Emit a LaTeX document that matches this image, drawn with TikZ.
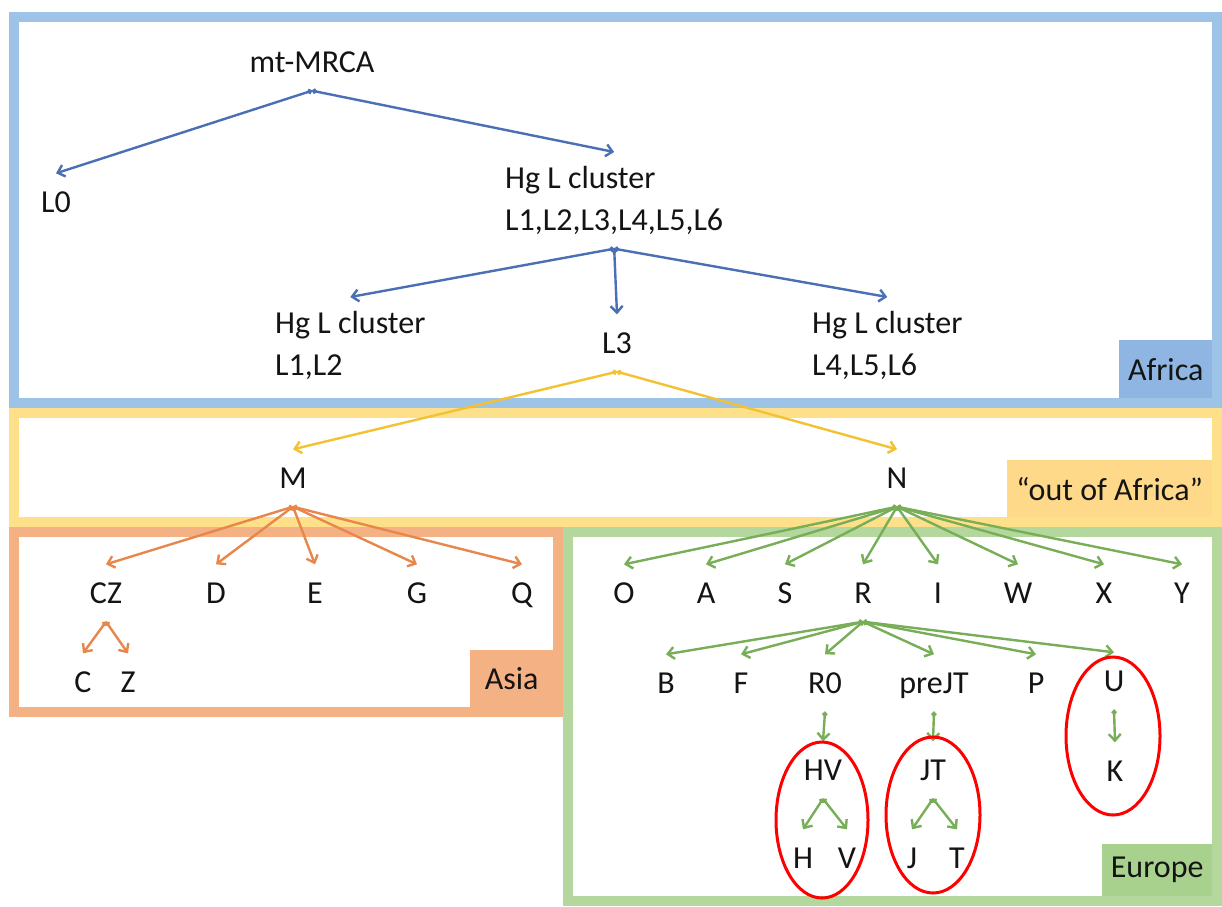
\documentclass[tikz,border=0pt]{standalone}
\usepackage{fontspec}
\setmainfont{Carlito}
\usetikzlibrary{arrows.meta}
\definecolor{frblue}{HTML}{9DC3E6}
\definecolor{lbblue}{HTML}{8FB6E2}
\definecolor{fryel}{HTML}{FFE08A}
\definecolor{lbyel}{HTML}{FFD98A}
\definecolor{frora}{HTML}{F4B183}
\definecolor{lbora}{HTML}{F4B183}
\definecolor{frgrn}{HTML}{B4D79E}
\definecolor{lbgrn}{HTML}{A9D18E}
\definecolor{arblue}{HTML}{4A6FB5}
\definecolor{aryel}{HTML}{F2C232}
\definecolor{arora}{HTML}{E8874C}
\definecolor{argrn}{HTML}{78AE57}
\definecolor{txt}{HTML}{141414}
\definecolor{ringred}{HTML}{FF0000}
\begin{document}
\begin{tikzpicture}[x=1pt,y=-1pt,
  frame/.style={line width=10pt},
  hap/.style={font=\fontsize{32}{42}\selectfont, text=txt, inner xsep=0pt, inner ysep=18pt, text height=21pt, text depth=0pt},
  hapml/.style={font=\fontsize{32}{42}\selectfont, text=txt, inner xsep=0pt, inner ysep=14pt, align=left, anchor=north west},
  region/.style={font=\fontsize{32}{42}\selectfont, text=txt, inner sep=0pt, anchor=north west},
  link/.style={line width=2.4pt, {Circle[length=5pt]}-{Straight Barb[length=6.5pt,width=12pt]}},
  ring/.style={draw=ringred, line width=3pt}
]
\useasboundingbox (0,0) rectangle (1222,906);
\fill[white] (0,0) rectangle (1222,906);

% frames
\draw[frame, draw=frblue] (14,17) rectangle (1217,403);
\draw[frame, draw=fryel] (14,413) rectangle (1217,522);
\draw[frame, draw=frora] (14,532) rectangle (558,712);
\draw[frame, draw=frgrn] (568,532) rectangle (1217,901);

% region labels
\node[region, fill=lbblue, minimum width=93pt, minimum height=58pt] (africa) at (1119,340) {Africa};
\node[region, fill=lbyel, minimum width=205pt, minimum height=57pt] (ooa) at (1007,460) {``out of Africa''};
\node[region, fill=lbora, minimum width=83pt, minimum height=57pt] (asia) at (470,650) {Asia};
\node[region, fill=lbgrn, minimum width=110pt, minimum height=52pt] (europe) at (1102,844) {Europe};

% haplogroup nodes
\node[hap] (mrca) at (312,62) {mt-MRCA};
\node[hap] (L0) at (56,202) {L0};
\node[hapml] (hgall) at (505,152) {Hg L cluster\\L1,L2,L3,L4,L5,L6};
\node[hapml] (hg12) at (275,297) {Hg L cluster\\L1,L2};
\node[hap] (L3) at (617,343) {L3};
\node[hapml] (hg456) at (812,297) {Hg L cluster\\L4,L5,L6};

\node[hap] (M) at (293,478) {M};
\node[hap] (N) at (897,478) {N};

\node[hap] (CZ) at (106,593) {CZ};
\node[hap] (D) at (216,593) {D};
\node[hap] (E) at (315,593) {E};
\node[hap] (G) at (417,593) {G};
\node[hap] (Q) at (522,593) {Q};
\node[hap] (C) at (83,682) {C};
\node[hap] (Z) at (128,682) {Z};

\node[hap] (O) at (624,593) {O};
\node[hap] (A) at (706,593) {A};
\node[hap] (S) at (785,593) {S};
\node[hap] (R) at (863,593) {R};
\node[hap] (I) at (938,593) {I};
\node[hap] (W) at (1018,593) {W};
\node[hap] (X) at (1104,593) {X};
\node[hap] (Y) at (1182,593) {Y};

\node[hap] (B) at (666,683) {B};
\node[hap] (F) at (741,683) {F};
\node[hap] (R0) at (825,683) {R0};
\node[hap] (preJT) at (934,683) {preJT};
\node[hap] (P) at (1036,683) {P};
\node[hap] (U) at (1114,681) {U};

\node[hap] (HV) at (823,770) {HV};
\node[hap] (JT) at (933,770) {JT};
\node[hap] (K) at (1115,771) {K};
\node[hap] (H) at (803,858) {H};
\node[hap] (V) at (847,858) {V};
\node[hap] (J) at (912,858) {J};
\node[hap] (T) at (957,858) {T};

% connectors
\begin{scope}[link, draw=arblue]
\draw (mrca.south) -- (L0.north);
\draw (mrca.south) -- (hgall.north);
\draw (hgall.south) -- (hg12.north);
\draw (hgall.south) -- (L3.north);
\draw (hgall.south) -- (hg456.north);
\end{scope}
\begin{scope}[link, draw=aryel]
\draw (L3.south) -- (M.north);
\draw (L3.south) -- (N.north);
\end{scope}
\begin{scope}[link, draw=arora]
\foreach \c in {CZ,D,E,G,Q} \draw (M.south) -- (\c.north);
\draw (CZ.south) -- (C.north);
\draw (CZ.south) -- (Z.north);
\end{scope}
\begin{scope}[link, draw=argrn]
\foreach \c in {O,A,S,R,I,W,X,Y} \draw (N.south) -- (\c.north);
\foreach \c in {B,F,R0,preJT,P,U} \draw (R.south) -- (\c.north);
\draw (R0.south) -- (HV.north);
\draw (preJT.south) -- (JT.north);
\draw (U.south) -- (K.north);
\draw (HV.south) -- (H.north);
\draw (HV.south) -- (V.north);
\draw (JT.south) -- (J.north);
\draw (JT.south) -- (T.north);
\end{scope}

% red rings
\draw[ring] (822,820) ellipse [x radius=46, y radius=78];
\draw[ring] (933,815) ellipse [x radius=47, y radius=78];
\draw[ring] (1113,736) ellipse [x radius=47, y radius=79];
\end{tikzpicture}
\end{document}
